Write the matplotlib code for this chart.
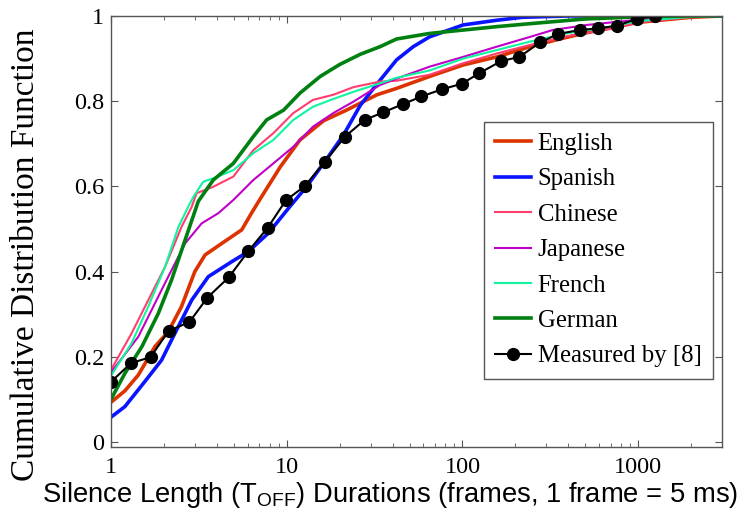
import matplotlib
matplotlib.use("Agg")
import matplotlib.pyplot as plt
from matplotlib.ticker import FixedLocator, LogLocator, NullFormatter

# curves (x in frames, y = CDF)
english_x = [1, 1.2, 1.43, 1.78, 2.12, 2.52, 3.0, 3.43, 4.27, 5.55, 6.3, 7.1, 9.2, 11.9, 16.2, 21.9,
             27.3, 32.6, 42.2, 65, 101, 157, 243, 350, 500, 700, 1000, 2000, 3000]
english_y = [0.093, 0.12, 0.157, 0.224, 0.259, 0.318, 0.40, 0.439, 0.466, 0.498, 0.537, 0.572, 0.646,
             0.709, 0.754, 0.779, 0.799, 0.815, 0.830, 0.858, 0.885, 0.904, 0.928, 0.945, 0.960, 0.972,
             0.985, 0.997, 1.0]

spanish_x = [1, 1.2, 1.56, 1.94, 2.31, 2.88, 3.58, 4.86, 6.05, 7.86, 10.3, 13, 16.2, 21, 26.2, 32.6,
             42.2, 52.5, 65, 101, 157, 220, 400, 3000]
spanish_y = [0.058, 0.083, 0.142, 0.192, 0.255, 0.333, 0.388, 0.423, 0.447, 0.49, 0.55, 0.60, 0.654,
             0.72, 0.79, 0.84, 0.897, 0.928, 0.951, 0.979, 0.99, 0.997, 1.0, 1.0]

chinese_x = [1, 1.31, 1.63, 2.03, 2.52, 2.88, 3.07, 3.82, 4.97, 6.46, 8.4, 10.9, 14.1, 18.4, 24, 34,
             42.2, 65, 101, 157, 243, 400, 700, 1000, 2000, 3000]
chinese_y = [0.169, 0.255, 0.333, 0.411, 0.505, 0.552, 0.584, 0.599, 0.623, 0.685, 0.725, 0.772, 0.803,
             0.815, 0.833, 0.846, 0.848, 0.862, 0.889, 0.912, 0.932, 0.953, 0.97, 0.985, 0.997, 1.0]

japanese_x = [1, 1.43, 2.03, 2.64, 3.28, 4.08, 4.97, 6.46, 8.4, 10.9, 14.1, 18.4, 24, 34, 42.2, 65,
              101, 157, 243, 326, 511, 790, 1230, 2000, 3000]
japanese_y = [0.163, 0.247, 0.373, 0.466, 0.513, 0.537, 0.568, 0.615, 0.654, 0.693, 0.74, 0.772, 0.799,
              0.838, 0.853, 0.881, 0.904, 0.928, 0.951, 0.967, 0.979, 0.987, 0.995, 0.999, 1.0]

french_x = [1, 1.31, 1.63, 2.03, 2.42, 2.75, 2.94, 3.35, 3.82, 4.97, 6.46, 8.4, 10.9, 14.1, 18.4, 24,
            34, 42.2, 65, 101, 157, 243, 400, 700, 1000, 2000, 3000]
french_y = [0.155, 0.232, 0.318, 0.411, 0.505, 0.552, 0.575, 0.611, 0.619, 0.638, 0.678, 0.709, 0.756,
            0.787, 0.805, 0.822, 0.842, 0.855, 0.872, 0.9, 0.92, 0.94, 0.96, 0.975, 0.988, 0.998, 1.0]

german_x = [1, 1.2, 1.5, 1.86, 2.21, 2.64, 3.14, 3.82, 4.97, 6.46, 7.68, 9.6, 11.9, 15.5, 20, 26.2,
            34, 42.2, 65, 101, 157, 243, 500, 1000, 2000, 3000]
german_y = [0.1, 0.161, 0.224, 0.302, 0.38, 0.474, 0.565, 0.615, 0.654, 0.717, 0.756, 0.779, 0.819,
            0.858, 0.886, 0.91, 0.928, 0.946, 0.959, 0.967, 0.975, 0.982, 0.993, 0.998, 1.0, 1.0]

measured_x = [1, 1.30, 1.68, 2.13, 2.79, 3.54, 4.67, 6.05, 7.8, 9.88, 12.7, 16.5, 21.5, 27.8, 35.5,
              45.9, 58.4, 76.7, 99.4, 125, 166, 211, 277, 352, 464, 591, 755, 980, 1252]
measured_y = [0.141, 0.185, 0.199, 0.261, 0.281, 0.339, 0.386, 0.448, 0.503, 0.567, 0.601, 0.658, 0.717,
              0.756, 0.774, 0.793, 0.811, 0.828, 0.841, 0.866, 0.894, 0.904, 0.938, 0.958, 0.967, 0.971,
              0.977, 0.993, 1.0]

serif = "Liberation Serif"

fig = plt.figure(figsize=(7.46, 5.19), dpi=100)
ax = fig.add_axes([0.1488, 0.1387, 0.819, 0.8305])

ax.plot(english_x, english_y, color="#dd3300", lw=2.6, label="English")
ax.plot(spanish_x, spanish_y, color="#0a14ff", lw=2.6, label="Spanish")
ax.plot(chinese_x, chinese_y, color="#ff3d6e", lw=1.5, label="Chinese")
ax.plot(japanese_x, japanese_y, color="#c000c8", lw=1.5, label="Japanese")
ax.plot(french_x, french_y, color="#12f5a0", lw=1.5, label="French")
ax.plot(german_x, german_y, color="#008010", lw=2.6, label="German")
ax.plot(measured_x, measured_y, color="black", lw=1.5, marker="o", ms=8.5, label="Measured by [8]")

ax.set_xscale("log")
ax.set_xlim(1, 3000)
ax.set_ylim(-0.012, 1)

ax.xaxis.set_major_locator(FixedLocator([1, 10, 100, 1000]))
ax.set_xticklabels(["1", "10", "100", "1000"])
ax.xaxis.set_minor_locator(LogLocator(base=10, subs=range(2, 10)))
ax.xaxis.set_minor_formatter(NullFormatter())
ax.set_yticks([0, 0.2, 0.4, 0.6, 0.8, 1])
ax.set_yticklabels(["0", "0.2", "0.4", "0.6", "0.8", "1"])

ax.tick_params(which="both", direction="in", top=True, right=True, color="#555555")
ax.tick_params(which="major", length=5, width=0.8, labelsize=17.5, pad=5)
ax.tick_params(axis="x", which="major", pad=7)
ax.tick_params(which="minor", length=3, width=0.6)
for lab in ax.get_xticklabels() + ax.get_yticklabels():
    lab.set_family(serif)
for sp in ax.spines.values():
    sp.set_color("#555555")
    sp.set_linewidth(1.0)

ax.set_ylabel("Cumulative Distribution Function", family=serif, fontsize=24)
ax.yaxis.set_label_coords(-0.114, 0.445)
ax.set_xlabel(r"Silence Length (T$_\mathregular{OFF}$) Durations (frames, 1 frame = 5 ms)",
              family="Liberation Sans", fontsize=19.7)
ax.xaxis.set_label_coords(0.457, -0.0766)

leg = ax.legend(loc="upper right", bbox_to_anchor=(0.985, 0.755), borderaxespad=0,
                prop={"family": serif, "size": 17.8}, fancybox=False, framealpha=1,
                edgecolor="#555555", handlelength=1.45, handletextpad=0.28,
                labelspacing=0.53, borderpad=0.45)
leg.get_frame().set_linewidth(1.0)

fig.savefig("out.png", dpi=100)
